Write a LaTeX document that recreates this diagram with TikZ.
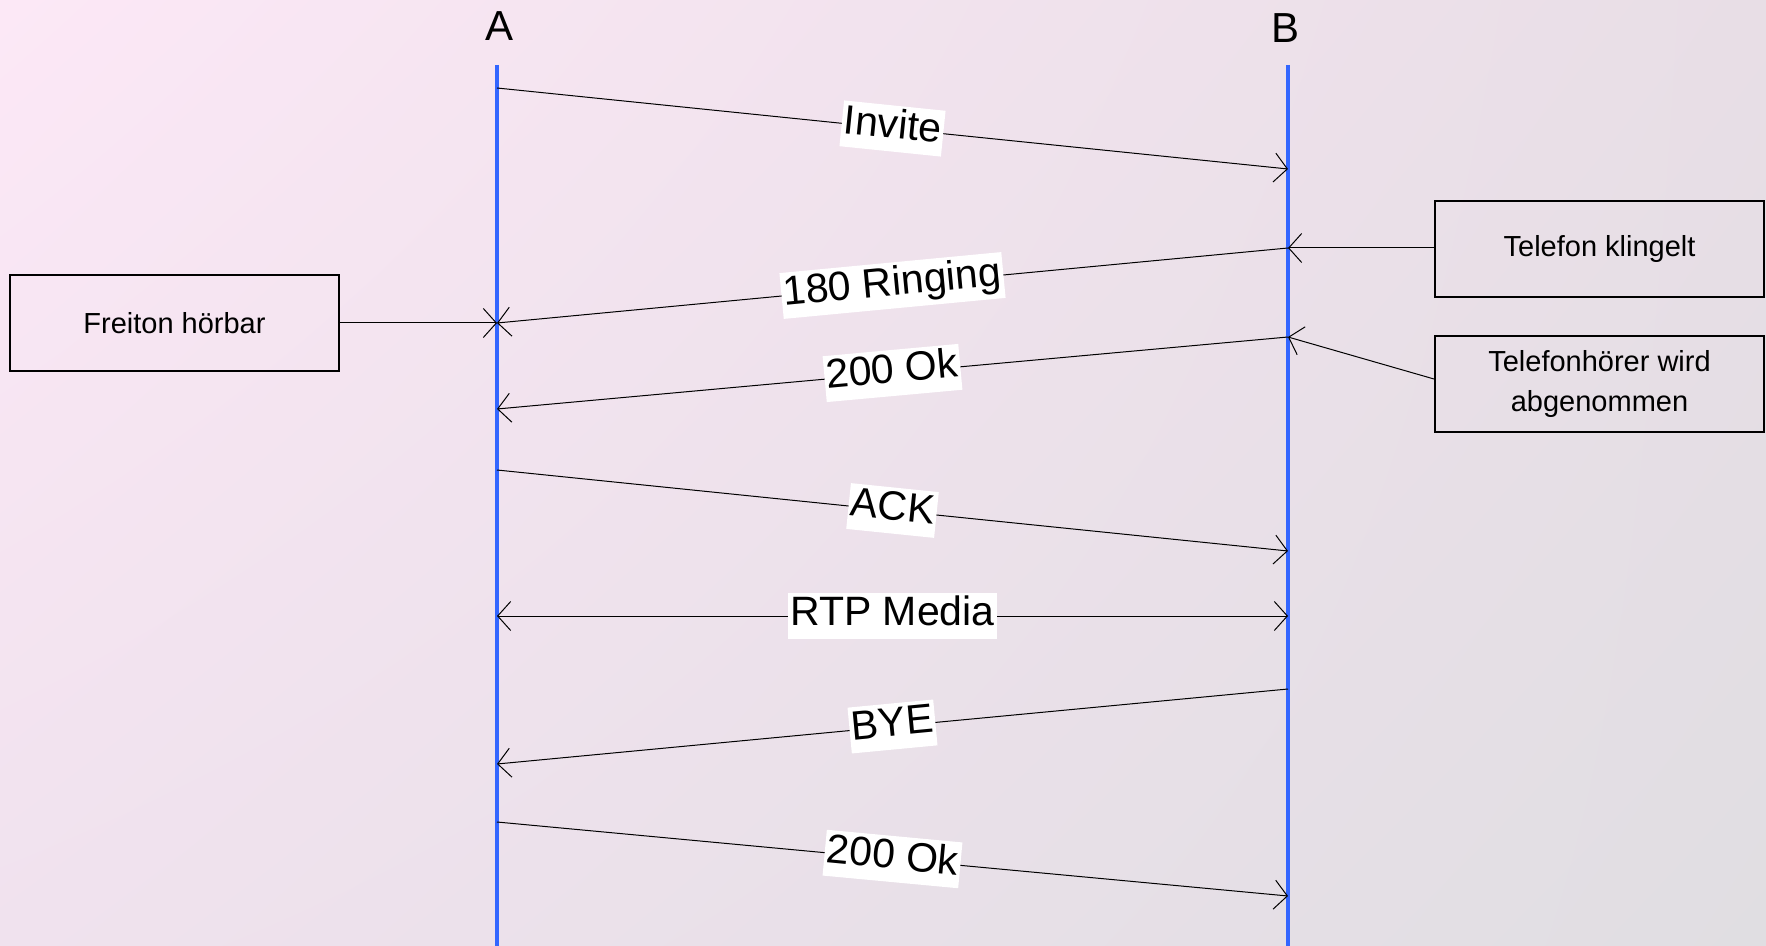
\documentclass[tikz,border=0pt]{standalone}
\usepackage{fontspec}
\setmainfont{Liberation Sans}
\usetikzlibrary{arrows.meta,shadings}

\definecolor{bgUL}{RGB}{252,232,246}
\definecolor{bgUR}{RGB}{232,222,230}
\definecolor{bgLL}{RGB}{240,226,238}
\definecolor{bgLR}{RGB}{224,222,226}
\definecolor{lifeblue}{RGB}{51,102,255}

\tikzset{
  lifeline/.style={draw=lifeblue, line width=2pt},
  partname/.style={font=\fontsize{21}{25}\selectfont, inner sep=0pt},
  msg/.style={draw=black, line width=0.5pt,
    -{Straight Barb[length=6.5pt,width=14.5pt,line width=0.5pt]}},
  bimsg/.style={msg,
    {Straight Barb[length=6.5pt,width=14.5pt,line width=0.5pt]}-{Straight Barb[length=6.5pt,width=14.5pt,line width=0.5pt]}},
  msglabel/.style={fill=white, sloped, midway, inner xsep=1pt, inner ysep=0pt,
    text height=16.4pt, text depth=6.6pt,
    font=\fontsize{20.5}{24}\selectfont},
  notebox/.style={draw=black, line width=1pt, fill=none,
    minimum width=164.5pt, minimum height=48pt, align=center,
    font=\fontsize{14.5}{19.7}\selectfont}
}

\begin{document}
\begin{tikzpicture}[x=0.5pt, y=-0.5pt]
  % background
  \useasboundingbox (0,0) rectangle (1766,946);
  \shade[upper left=bgUL, upper right=bgUR, lower left=bgLL, lower right=bgLR]
    (0,0) rectangle (1766,946);

  % participants and lifelines
  \node[partname] (labA) at (499,26) {A};
  \node[partname] (labB) at (1285,28) {B};
  \coordinate (Atop) at (497,65);
  \coordinate (Abot) at (497,946);
  \coordinate (Btop) at (1288,65);
  \coordinate (Bbot) at (1288,946);
  \draw[lifeline] (Atop) -- (Abot);
  \draw[lifeline] (Btop) -- (Bbot);

  % message end points on the lifelines
  \coordinate (a1) at (497,88);   \coordinate (b1) at (1288,169);
  \coordinate (b2) at (1288,248); \coordinate (a2) at (497,323);
  \coordinate (b3) at (1288,337); \coordinate (a3) at (497,409);
  \coordinate (a4) at (497,470);  \coordinate (b4) at (1288,551);
  \coordinate (a5) at (497,616);  \coordinate (b5) at (1288,616);
  \coordinate (b6) at (1288,689); \coordinate (a6) at (497,764);
  \coordinate (a7) at (497,822);  \coordinate (b7) at (1288,896);

  % side notes
  \node[notebox] (ring) at (1599.5,249) {Telefon klingelt};
  \node[notebox] (pick) at (1599.5,384) {Telefonhörer wird\\abgenommen};
  \node[notebox] (tone) at (174.5,323) {Freiton hörbar};

  % messages
  \draw[msg] (a1) -- node[msglabel] {Invite} (b1);
  \draw[msg] (b2) -- node[msglabel] {180 Ringing} (a2);
  \draw[msg] (b3) -- node[msglabel] {200 Ok} (a3);
  \draw[msg] (a4) -- node[msglabel] {ACK} (b4);
  \draw[bimsg] (a5) -- node[msglabel] {RTP Media} (b5);
  \draw[msg] (b6) -- node[msglabel] {BYE} (a6);
  \draw[msg] (a7) -- node[msglabel] {200 Ok} (b7);

  % note connectors
  \draw[msg] ([yshift=0.5pt]ring.west) -- (b2);
  \draw[msg] ([yshift=2.5pt]pick.west) -- (b3);
  \draw[msg] (tone.east) -- (a2);
\end{tikzpicture}
\end{document}
